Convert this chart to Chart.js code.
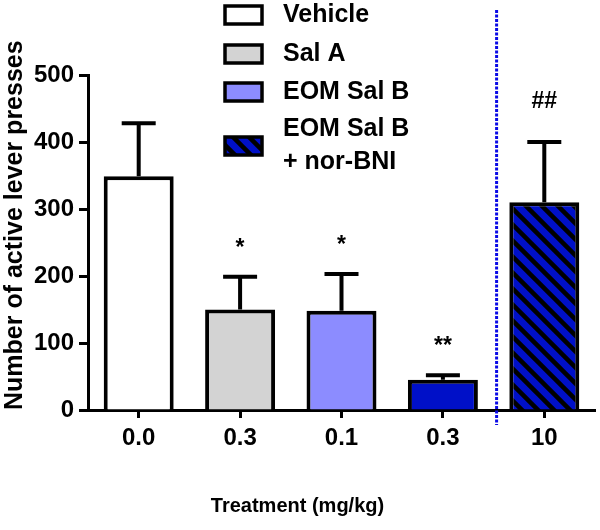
<!DOCTYPE html>
<html>
<head>
<meta charset="utf-8">
<script src="https://cdn.jsdelivr.net/npm/chart.js@4"></script>
<style>
  html, body { margin: 0; padding: 0; background: #fff; }
  #wrap { width: 600px; height: 530px; }
</style>
</head>
<body>
<div id="wrap"><canvas id="chart" width="600" height="530"></canvas></div>
<script>
// data
const doses = ['0.0', '0.3', '0.1', '0.3', '10'];
const means = [349, 150, 148, 45, 310];
const sems = [79, 49, 55, 7, 90];
const marks = ['', '*', '*', '**', '##'];
const legendNames = [['Vehicle'], ['Sal A'], ['EOM Sal B'], ['EOM Sal B', '+ nor-BNI']];
const yTicks = [0, 100, 200, 300, 400, 500];

const FONT = "'Liberation Sans', Arial, sans-serif";
const DARK = '#0010c8';

function makeHatch() {
    const c = document.createElement('canvas');
    c.width = 16; c.height = 16;
    const g = c.getContext('2d');
    g.fillStyle = DARK;
    g.fillRect(0, 0, 16, 16);
    g.strokeStyle = '#000';
    g.lineWidth = 4.5;
    g.beginPath();
    g.moveTo(-4, -4); g.lineTo(20, 20);
    g.moveTo(-4, 12); g.lineTo(4, 20);
    g.moveTo(12, -4); g.lineTo(20, 4);
    g.stroke();
    return g.createPattern(c, 'repeat');
}
const hatch = makeHatch();
const barColors = ['#ffffff', '#d3d3d3', '#8c8cff', DARK, hatch];
const legendColors = ['#ffffff', '#d3d3d3', '#8c8cff', hatch];

// error bars + significance marks
const errorBars = {
    id: 'errorBars',
    afterDatasetsDraw(chart) {
        const ctx = chart.ctx;
        const meta = chart.getDatasetMeta(0);
        const y = chart.scales.y;
        ctx.save();
        ctx.strokeStyle = '#000';
        ctx.lineWidth = 4;
        meta.data.forEach((bar, i) => {
            const top = y.getPixelForValue(means[i] + sems[i]);
            ctx.beginPath();
            ctx.moveTo(bar.x, bar.y);
            ctx.lineTo(bar.x, top);
            ctx.moveTo(bar.x - 17, top);
            ctx.lineTo(bar.x + 17, top);
            ctx.stroke();
            if (marks[i]) {
                ctx.fillStyle = '#000';
                ctx.font = 'bold 23px ' + FONT;
                ctx.textAlign = 'center';
                ctx.textBaseline = 'alphabetic';
                const gap = marks[i] === '##' ? 34 : 22;
                ctx.fillText(marks[i], bar.x, top - gap);
            }
        });
        ctx.restore();
    }
};

// dotted divider between the 4th and 5th groups
const divider = {
    id: 'divider',
    afterDraw(chart) {
        const x = chart.scales.x;
        const px = (x.getPixelForValue(3) + x.getPixelForValue(4)) / 2 + 3;
        const ctx = chart.ctx;
        ctx.save();
        ctx.strokeStyle = '#0a0ae6';
        ctx.lineWidth = 3;
        ctx.setLineDash([3, 1.5]);
        ctx.beginPath();
        ctx.moveTo(px, 10);
        ctx.lineTo(px, chart.chartArea.bottom + 15);
        ctx.stroke();
        ctx.restore();
    }
};

// legend at top
const boxLegend = {
    id: 'boxLegend',
    afterDraw(chart) {
        const ctx = chart.ctx;
        const rows = [15, 54, 92, 146];
        ctx.save();
        ctx.font = 'bold 25px ' + FONT;
        ctx.textBaseline = 'middle';
        ctx.textAlign = 'left';
        legendNames.forEach((lines, i) => {
            const cy = rows[i];
            ctx.fillStyle = legendColors[i];
            ctx.fillRect(225, cy - 9, 37, 18);
            ctx.strokeStyle = '#000';
            ctx.lineWidth = 3.5;
            ctx.strokeRect(225, cy - 9, 37, 18);
            ctx.fillStyle = '#000';
            lines.forEach((t, k) => {
                ctx.fillText(t, 283, cy + (k - (lines.length - 1) / 2) * 33);
            });
        });
        ctx.restore();
    }
};

new Chart(document.getElementById('chart'), {
    type: 'bar',
    data: {
        labels: doses,
        datasets: [{
            data: means,
            backgroundColor: barColors,
            borderColor: '#000',
            borderWidth: 4,
            barPercentage: 0.69,
            categoryPercentage: 1.0
        }]
    },
    options: {
        responsive: false,
        animation: false,
        layout: { padding: { left: 0, right: 5, top: 75, bottom: 0 } },
        plugins: {
            legend: { display: false },
            tooltip: { enabled: false },
            title: {
                display: true,
                position: 'bottom',
                text: 'Treatment (mg/kg)',
                color: '#000',
                font: { family: FONT, size: 20, weight: 'bold' },
                padding: { top: 10, bottom: 12 }
            }
        },
        scales: {
            x: {
                afterFit(scale) { scale.height = 74; },
                grid: {
                    display: true, drawOnChartArea: false, offset: false,
                    tickLength: 8, tickWidth: 3, tickColor: '#000'
                },
                border: { display: true, color: '#000', width: 3 },
                ticks: {
                    color: '#000', padding: 6,
                    font: { family: FONT, size: 24, weight: 'bold' }
                }
            },
            y: {
                min: 0, max: 500,
                afterFit(scale) { scale.width = 88; },
                afterBuildTicks(scale) { scale.ticks = yTicks.map(v => ({ value: v })); },
                grid: {
                    display: true, drawOnChartArea: false,
                    tickLength: 9, tickWidth: 3, tickColor: '#000'
                },
                border: { display: true, color: '#000', width: 3 },
                ticks: {
                    color: '#000', padding: 5,
                    font: { family: FONT, size: 24, weight: 'bold' }
                },
                title: {
                    display: true,
                    text: 'Number of active lever presses',
                    align: 'start',
                    color: '#000',
                    padding: 0,
                    font: { family: FONT, size: 25, weight: 'bold' }
                }
            }
        }
    },
    plugins: [errorBars, divider, boxLegend]
});
</script>
</body>
</html>
